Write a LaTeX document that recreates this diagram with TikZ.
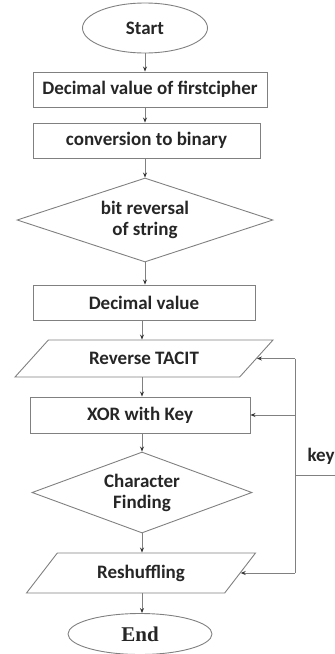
\documentclass[tikz,border=0pt]{standalone}
\usepackage{fontspec}
\setmainfont{Carlito}
\newfontfamily\endfont{Liberation Serif}
\usetikzlibrary{arrows.meta, positioning, shapes.geometric}
\tikzstyle{startstop} = [ellipse, minimum width=125pt, minimum height=50pt, text centered, draw=black!50, line width=0.9pt]
\tikzstyle{process} = [rectangle, minimum height=35pt, text centered, draw=black!50, line width=0.9pt]
\tikzstyle{decision} = [diamond, inner sep=1pt, align=center, draw=black!50, line width=0.9pt]
\tikzstyle{io} = [trapezium, trapezium stretches body, text centered, draw=black!50, line width=0.9pt]
\tikzstyle{line} = [line width=0.9pt, draw=black!50]
\tikzstyle{arrow} = [line, -{Stealth[length=5pt, width=4pt, color=black!80]}]
\tikzset{
  font={\fontsize{19pt}{21pt}\selectfont\bfseries}, text=black!85}

\begin{document}
\begin{tikzpicture}[x=1pt, y=-1pt]
    \useasboundingbox (0,0) rectangle (335,654);

    \node (start) [startstop] at (145,28) {Start};
    \node (firstcipher) [process, below of=start, node distance=61.5pt, xshift=5pt, minimum width=234pt] {Decimal value of firstcipher};
    \node (tobinary) [process, below of=firstcipher, node distance=51pt, xshift=-3.5pt, minimum width=227pt] {conversion to binary};
    \node (bitreverse) [decision, below of=tobinary, node distance=79.5pt, xshift=-1.5pt, aspect=3, minimum width=256pt, minimum height=84pt] {bit reversal\\of string};
    \node (decimal) [process, below of=bitreverse, node distance=82.5pt, xshift=-1pt, minimum width=222pt] {Decimal value};
    \node (tacit) [io, below of=decimal, node distance=56pt, trapezium left angle=30, trapezium right angle=150, minimum width=258pt, minimum height=37pt] {Reverse TACIT};
    \node (xorkey) [process, below of=tacit, node distance=56.5pt, xshift=-4pt, minimum width=220pt, minimum height=36pt] {XOR with Key};
    \node (charfind) [decision, below of=xorkey, node distance=77.5pt, xshift=2pt, aspect=2.7, minimum width=220pt, minimum height=81pt] {Character\\Finding};
    \node (reshuffle) [io, below of=charfind, node distance=80.5pt, xshift=-1pt, trapezium left angle=37, trapezium right angle=143, minimum width=229pt, minimum height=40pt] {Reshuffling};
    \node (end) [startstop, below of=reshuffle, node distance=61pt, xshift=-1pt, minimum width=144pt, minimum height=41pt] {\endfont\fontsize{21pt}{23pt}\selectfont\bfseries End};

    % key feed on the right
    \coordinate (bus) at (295,475);
    \coordinate (keyin) at (335,475);
    \node (keylabel) at (321,456) {key};

    \draw [arrow] (start) -- (start |- firstcipher.north);
    \draw [arrow] (start |- firstcipher.south) -- (start |- tobinary.north);
    \draw [arrow] (bitreverse |- tobinary.south) -- (bitreverse);
    \draw [arrow] (bitreverse) -- (bitreverse |- decimal.north);
    \draw [arrow] (decimal.south -| xorkey) ++(2pt,0) -- ([xshift=2pt]xorkey |- tacit.north);
    \draw [arrow] ([xshift=2pt]xorkey |- tacit.south) -- ([xshift=2pt]xorkey.north);
    \draw [arrow] ([xshift=2pt]xorkey.south) -- (charfind);
    \draw [arrow] (charfind) -- (charfind |- reshuffle.north);
    \draw [arrow] (charfind |- reshuffle.south) -- (charfind |- end.north);

    \draw [line] (keyin) -- (bus);
    \draw [line] (bus |- tacit.east) -- (bus |- reshuffle.east);
    \draw [arrow] (bus |- tacit.east) -- (tacit.east);
    \draw [arrow] (bus |- xorkey.east) -- (xorkey.east);
    \draw [arrow] (bus |- reshuffle.east) -- (reshuffle.east);
\end{tikzpicture}
\end{document}
